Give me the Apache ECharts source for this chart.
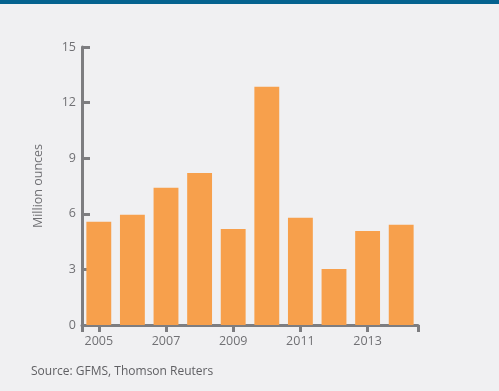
<!DOCTYPE html>
<html>
<head>
<meta charset="utf-8">
<script src="https://cdn.jsdelivr.net/npm/echarts@6/dist/echarts.min.js"></script>
<style>
html,body{margin:0;padding:0;background:#f0f0f2;}
#top{position:absolute;left:0;top:0;width:499px;height:4px;background:#04628f;}
#chart{position:absolute;left:0;top:0;width:499px;height:391px;}
</style>
</head>
<body>
<div id="chart"></div>
<div id="top"></div>
<script>
const years = [2005, 2006, 2007, 2008, 2009, 2010, 2011, 2012, 2013, 2014];
const values = [5.57, 5.95, 7.41, 8.2, 5.18, 12.86, 5.79, 3.02, 5.07, 5.41];
const xTickLabels = [2005, 2007, 2009, 2011, 2013];
const yTicks = [0, 3, 6, 9, 12, 15];
const yTitle = 'Million ounces';
const sourceText = 'Source: GFMS, Thomson Reuters';

const chart = echarts.init(document.getElementById('chart'), null, {renderer: 'canvas'});
const axisColor = '#7d7d80';
const labelColor = '#707074';
const font = 'Open Sans';

chart.setOption({
  backgroundColor: '#f0f0f2',
  animation: false,
  grid: {left: 82, right: 81, top: 47, bottom: 66, containLabel: false},
  title: {
    text: sourceText, left: 26, top: 361,
    textStyle: {fontSize: 12, fontWeight: 'normal', color: '#606064', fontFamily: font}
  },
  xAxis: {
    type: 'value',
    min: 2004.5, max: 2014.5,
    axisLine: {show: true, onZero: false, lineStyle: {color: axisColor, width: 3}},
    axisTick: {show: true, length: 7, lineStyle: {color: axisColor, width: 3},
      customValues: [2004.5].concat(xTickLabels).concat([2014.5])},
    axisLabel: {customValues: xTickLabels, color: labelColor, fontSize: 12.5, fontFamily: font, margin: 10,
      formatter: v => String(v)},
    splitLine: {show: false}
  },
  yAxis: {
    type: 'value', min: 0, max: 15, interval: 3,
    name: yTitle, nameLocation: 'middle', nameGap: 37,
    nameTextStyle: {color: labelColor, fontSize: 12.5, fontFamily: font},
    axisLine: {show: true, lineStyle: {color: axisColor, width: 3}},
    axisTick: {show: true, inside: true, length: 8, lineStyle: {color: axisColor, width: 3}},
    axisLabel: {color: labelColor, fontSize: 12.5, fontFamily: font, margin: 6},
    splitLine: {show: false}
  },
  series: [{
    type: 'bar',
    data: years.map((y, i) => [y, values[i]]),
    barWidth: '74%',
    itemStyle: {color: '#f7a04c'}
  }]
});
</script>
</body>
</html>
